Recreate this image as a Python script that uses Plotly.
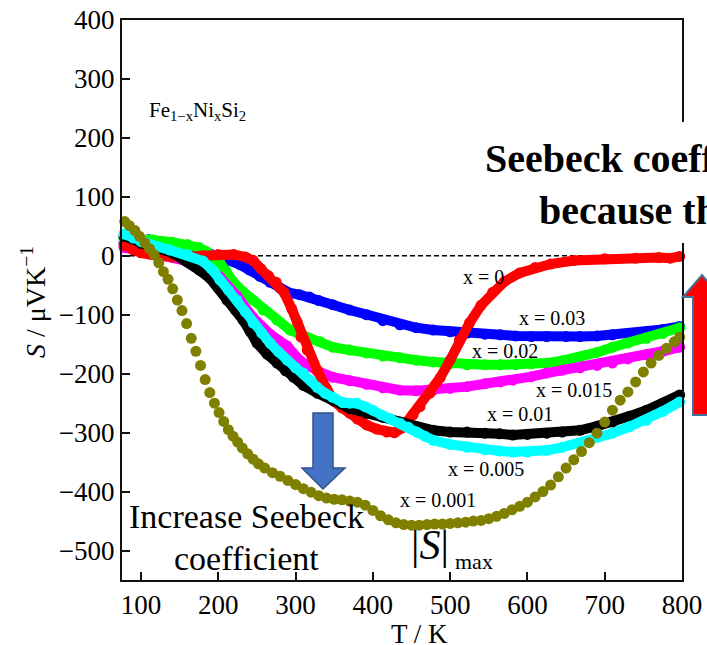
import plotly.graph_objects as go

# ---------------- data ----------------
T_x0 = [78, 90, 100, 120, 140, 160, 180, 200, 220, 235, 245, 255, 265, 275, 285, 295, 302, 307, 315, 328,
        340, 350, 360, 370, 380, 392, 405, 418, 428, 438, 444, 452, 461, 474, 487, 500, 512, 525, 540, 555,
        570, 590, 610, 630, 660, 700, 740, 770, 785, 797]
S_x0 = [18, 10, 5, 0, -2, -2, 0, 2, 2, -2, -8, -22, -34, -45, -62, -90, -112, -138, -160, -194,
        -225, -247, -258, -267, -277, -287, -294, -299, -300, -292, -282, -270, -256, -233, -207, -177, -143, -114, -84, -62,
        -44, -29, -20, -14, -8, -5, -4, -3, -4, -1]

T_x003 = [78, 90, 110, 130, 160, 180, 200, 215, 228, 240, 254, 267, 280, 292, 305, 318, 330, 348, 370, 392,
          413, 435, 456, 478, 500, 522, 545, 565, 585, 605, 625, 650, 668, 690, 710, 730, 754, 775, 797]
S_x003 = [22, 26, 27, 23, 15, 8, 0, -7, -15, -24, -35, -45, -55, -63, -66, -70, -76, -83, -92, -100,
          -110, -117, -122, -126, -129, -131, -133, -134, -136, -137, -137, -137, -137, -136, -134, -132, -129, -125, -120]

T_x002 = [78, 95, 115, 140, 160, 175, 185, 195, 202, 210, 219, 232, 245, 258, 276, 293, 315, 332, 348, 370,
          392, 413, 435, 456, 478, 500, 522, 545, 565, 585, 605, 625, 645, 668, 690, 710, 730, 754, 775, 797]
S_x002 = [28, 28, 27, 23, 19, 14, 7, -3, -12, -26, -44, -61, -75, -92, -109, -126, -138, -146, -155, -160,
          -165, -170, -173, -177, -180, -183, -185, -185, -185, -185, -183, -182, -178, -172, -164, -155, -148, -140, -132, -122]

T_x0015 = [78, 90, 100, 120, 137, 160, 180, 202, 224, 245, 267, 289, 306, 315, 328, 348, 370, 392, 413, 435,
           456, 478, 500, 522, 545, 565, 581, 605, 625, 645, 668, 690, 710, 730, 754, 775, 797]
S_x0015 = [14, 11, 7, 3, -1, -9, -16, -36, -68, -105, -133, -153, -178, -187, -195, -206, -212, -218, -224, -228,
           -229, -228, -225, -222, -217, -214, -211, -205, -199, -194, -190, -186, -182, -175, -168, -162, -155]

T_x001 = [78, 100, 120, 140, 160, 175, 189, 200, 211, 222, 232, 241, 250, 263, 276, 287, 297, 310, 328, 348,
          370, 392, 413, 435, 457, 478, 500, 522, 545, 564, 581, 600, 625, 645, 668, 690, 710, 732, 754, 775, 797]
S_x001 = [33, 21, 13, 5, -10, -24, -38, -55, -75, -92, -109, -128, -148, -167, -182, -195, -206, -220, -233, -245,
          -259, -267, -274, -282, -291, -296, -299, -299, -301, -302, -304, -303, -301, -299, -296, -289, -282, -272, -262, -250, -236]

T_x0005 = [78, 90, 100, 120, 137, 160, 180, 191, 202, 213, 224, 235, 245, 256, 267, 278, 289, 300, 310, 320,
           328, 338, 348, 361, 370, 379, 390, 400, 411, 422, 435, 446, 457, 467, 478, 500, 522, 545, 564, 581,
           600, 625, 645, 668, 690, 710, 732, 754, 775, 797]
S_x0005 = [37, 30, 24, 16, 10, 2, -9, -22, -41, -58, -75, -95, -114, -131, -148, -163, -177, -190, -199, -212,
           -223, -233, -240, -249, -250, -250, -256, -262, -270, -276, -284, -291, -299, -306, -313, -320, -325, -329, -331, -333,
           -333, -330, -325, -318, -308, -301, -290, -279, -264, -248]

T_x0001 = [79, 85, 92, 98, 105, 111, 117, 123, 129, 135, 141, 147, 153, 159, 165, 171, 177, 183, 189, 195,
           201, 207, 213, 219, 225, 231, 238, 245, 252, 260, 270, 280, 290, 300, 310, 320, 330, 340, 350, 360,
           370, 380, 390, 400, 410, 420, 430, 440, 450, 460, 470, 480, 490, 500, 510, 520, 530, 540, 550, 560,
           570, 580, 590, 600, 610, 620, 630, 640, 650, 660, 670, 680, 690, 700, 710, 720, 730, 740, 750, 760,
           770, 780, 790, 797]
S_x0001 = [58, 51, 43, 33, 22, 12, 2, -12, -27, -40, -56, -75, -93, -115, -140, -162, -186, -210, -232, -250,
           -266, -281, -295, -306, -316, -326, -336, -345, -353, -360, -368, -374, -381, -388, -395, -401, -407, -411, -413, -414,
           -416, -418, -423, -432, -441, -448, -453, -456, -457, -457, -456, -455, -455, -454, -453, -452, -450, -449, -446, -442,
           -437, -431, -425, -418, -409, -400, -389, -375, -360, -346, -332, -317, -301, -282, -262, -245, -231, -214, -197, -182,
           -169, -157, -146, -138]

x_ticks = [100, 200, 300, 400, 500, 600, 700, 800]
y_ticks = [-500, -400, -300, -200, -100, 0, 100, 200, 300, 400]

labels = ["x = 0", "x = 0.03", "x = 0.02", "x = 0.015", "x = 0.01", "x = 0.005", "x = 0.001"]

# ---------------- layout helpers ----------------
W, H = 707, 645
L, R, TOP, B = 122, 682, 20, 580
FONT = "Liberation Serif"


def px(x):
    return (x - L) / (R - L)


def py(y):
    return (B - y) / (B - TOP)


def path(points):
    return "M " + " L ".join(f"{px(a):.5f},{py(b):.5f}" for a, b in points) + " Z"


fig = go.Figure()

dense = [
    (T_x003, S_x003, "#0000FF"),
    (T_x002, S_x002, "#00FF00"),
    (T_x0015, S_x0015, "#FF00FF"),
    (T_x0, S_x0, "#FF0000"),
    (T_x001, S_x001, "#000000"),
    (T_x0005, S_x0005, "#00FFFF"),
]
for T, S, c in dense:
    fig.add_trace(go.Scatter(x=T, y=S, mode="lines+markers",
                             line=dict(color=c, width=10),
                             marker=dict(color=c, size=11),
                             cliponaxis=False, showlegend=False, hoverinfo="skip"))

fig.add_trace(go.Scatter(x=T_x0001, y=S_x0001, mode="markers",
                         marker=dict(color="#808000", size=11),
                         cliponaxis=False, showlegend=False, hoverinfo="skip"))

fig.add_hline(y=0, line=dict(color="black", width=1.5, dash="5px,3px"), layer="below")

axis_common = dict(showline=True, linewidth=2, linecolor="#111111", mirror=True,
                   ticks="inside", ticklen=8, tickwidth=2, tickcolor="#111111",
                   showgrid=False, zeroline=False, automargin=False,
                   tickfont=dict(family=FONT, size=27, color="black"))

fig.update_layout(
    template="none",
    width=W, height=H,
    margin=dict(l=L, r=W - R, t=TOP, b=H - B, autoexpand=False),
    paper_bgcolor="white", plot_bgcolor="white",
    font=dict(family=FONT, color="black"),
    xaxis=dict(range=[75.4, 800], tickvals=x_ticks, **axis_common),
    yaxis=dict(range=[-550, 400], tickvals=y_ticks, **axis_common),
    showlegend=False,
)

shapes = [
    # white box behind the cut-off headline (hides the right frame there)
    dict(type="rect", xref="paper", yref="paper", x0=px(470), x1=px(730), y0=py(243), y1=py(122),
         fillcolor="white", line=dict(width=0), layer="above"),
    # blue down arrow
    dict(type="path", xref="paper", yref="paper", layer="above",
         path=path([(313, 413), (333, 413), (333, 468), (345, 468), (323, 489), (302, 468), (313, 468)]),
         fillcolor="#4472C4", line=dict(color="#2F528F", width=1.5)),
    # red up arrow
    dict(type="path", xref="paper", yref="paper", layer="above",
         path=path([(693, 415), (693, 297), (683, 297), (702, 275), (721, 297), (711, 297), (711, 415)]),
         fillcolor="#FF0000", line=dict(color="#41719C", width=2)),
]
for s in shapes:
    fig.add_shape(**s)


def ann(text, x, y, size, xanchor="center", yanchor="middle", **kw):
    fig.add_annotation(text=text, x=px(x), y=py(y), xref="paper", yref="paper",
                       xanchor=xanchor, yanchor=yanchor, showarrow=False,
                       font=dict(family=FONT, size=size, color="black"), **kw)


ann("Fe<sub>1−x</sub>Ni<sub>x</sub>Si<sub>2</sub>", 147, 111, 21, xanchor="left")

label_pos = [(483, 277), (552, 318), (505, 351), (574, 390), (520, 414), (486, 469), (438, 500)]
for t, (x, y) in zip(labels, label_pos):
    ann(t, x, y, 20)

ann("Increase Seebeck", 246, 516, 34)
ann("coefficient", 246, 558, 34)
ann("|<i>S</i>|", 430, 545, 42)
ann("max", 474, 561, 22)

ann("<b>Seebeck coefficient</b>", 483, 158, 40, xanchor="left")
ann("<b>because the</b>", 537, 210, 40, xanchor="left")

ann("<i>S</i> / μVK<sup>−1</sup>", 33, 302, 28, textangle=-90)
ann("T / K", 419, 634, 27)

fig.write_html("out.html",
               config={"displayModeBar": False, "staticPlot": True},
               post_script="document.body.style.margin='0';document.body.style.overflow='hidden';")
